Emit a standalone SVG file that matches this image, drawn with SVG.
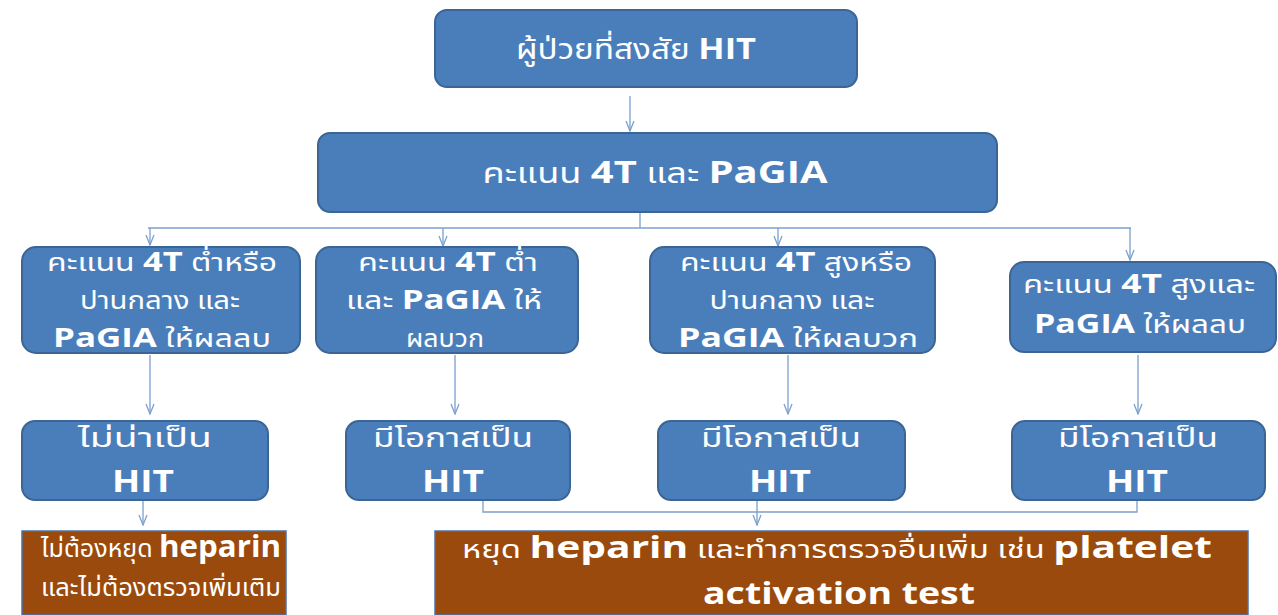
<svg xmlns="http://www.w3.org/2000/svg" width="1278" height="615" viewBox="0 0 1278 615">
<defs>
<marker id="arr" viewBox="0 0 12 10" refX="11" refY="5" markerWidth="12" markerHeight="10" markerUnits="userSpaceOnUse" orient="auto">
<path d="M1,1 L11,5 L1,9" fill="none" stroke="#7ba0cf" stroke-width="1.3"/>
</marker>
</defs>
<style>
.blue{fill:#4a7ebb;stroke:#3a6595;stroke-width:2}
.brown{fill:#9a4a0c;stroke:#4a74a8;stroke-width:1.5}
.t{fill:#ffffff;font-family:"Noto Sans Thai","Noto Sans","Open Sans",sans-serif;text-anchor:middle}
.b{font-family:"Open Sans","Noto Sans",sans-serif;font-weight:bold}
.c{fill:none;stroke:#7ba0cf;stroke-width:1.3}
</style>
<rect width="1278" height="615" fill="#ffffff"/>
<g id="connectors">
<line class="c" x1="630" y1="96" x2="630" y2="131" marker-end="url(#arr)"/>
<polyline class="c" points="640,212 640,228"/>
<line class="c" x1="148" y1="228" x2="1131" y2="228"/>
<line class="c" x1="150" y1="228" x2="150" y2="245" marker-end="url(#arr)"/>
<line class="c" x1="443" y1="228" x2="443" y2="246" marker-end="url(#arr)"/>
<line class="c" x1="778" y1="228" x2="778" y2="246" marker-end="url(#arr)"/>
<line class="c" x1="1130" y1="228" x2="1130" y2="260" marker-end="url(#arr)"/>
<line class="c" x1="150" y1="355" x2="150" y2="414" marker-end="url(#arr)"/>
<line class="c" x1="455" y1="355" x2="455" y2="414" marker-end="url(#arr)"/>
<line class="c" x1="788" y1="355" x2="788" y2="414" marker-end="url(#arr)"/>
<line class="c" x1="1138" y1="355" x2="1138" y2="414" marker-end="url(#arr)"/>
<line class="c" x1="143" y1="500" x2="143" y2="525" marker-end="url(#arr)"/>
<polyline class="c" points="483,500 483,512 1137,512 1137,500"/>
<line class="c" x1="757" y1="500" x2="757" y2="525" marker-end="url(#arr)"/>
</g>
<g id="n1">
<rect class="blue" x="435" y="10" width="422" height="77" rx="12"/>
<text class="t" x="636" y="59" font-size="28" textLength="240" lengthAdjust="spacingAndGlyphs">ผู้ป่วยที่สงสัย <tspan class="b" font-size="29">HIT</tspan></text>
</g>
<g id="n2">
<rect class="blue" x="318" y="133" width="679" height="79" rx="12"/>
<text class="t" x="655" y="183" font-size="28" textLength="345" lengthAdjust="spacingAndGlyphs">คะแนน <tspan class="b" font-size="31">4T</tspan> และ <tspan class="b" font-size="31">PaGIA</tspan></text>
</g>
<g id="n3">
<rect class="blue" x="22" y="247" width="278" height="106" rx="14"/>
<text class="t" x="162" y="271" font-size="25" textLength="230" lengthAdjust="spacingAndGlyphs">คะแนน <tspan class="b" font-size="27">4T</tspan> ต่ำหรือ</text>
<text class="t" x="160" y="309" font-size="25" textLength="160" lengthAdjust="spacingAndGlyphs">ปานกลาง และ</text>
<text class="t" x="162" y="347" font-size="25" textLength="218" lengthAdjust="spacingAndGlyphs"><tspan class="b" font-size="27">PaGIA</tspan> ให้ผลลบ</text>
</g>
<g id="n4">
<rect class="blue" x="316" y="247" width="262" height="106" rx="14"/>
<text class="t" x="448" y="271" font-size="25" textLength="180" lengthAdjust="spacingAndGlyphs">คะแนน <tspan class="b" font-size="27">4T</tspan> ต่ำ</text>
<text class="t" x="444" y="309" font-size="25" textLength="196" lengthAdjust="spacingAndGlyphs">และ <tspan class="b" font-size="27">PaGIA</tspan> ให้</text>
<text class="t" x="445" y="347" font-size="25" textLength="78" lengthAdjust="spacingAndGlyphs">ผลบวก</text>
</g>
<g id="n5">
<rect class="blue" x="650" y="247" width="285" height="106" rx="14"/>
<text class="t" x="796" y="271" font-size="25" textLength="232" lengthAdjust="spacingAndGlyphs">คะแนน <tspan class="b" font-size="27">4T</tspan> สูงหรือ</text>
<text class="t" x="792" y="309" font-size="25" textLength="165" lengthAdjust="spacingAndGlyphs">ปานกลาง และ</text>
<text class="t" x="798" y="347" font-size="25" textLength="240" lengthAdjust="spacingAndGlyphs"><tspan class="b" font-size="27">PaGIA</tspan> ให้ผลบวก</text>
</g>
<g id="n6">
<rect class="blue" x="1010" y="262" width="266" height="90" rx="14"/>
<text class="t" x="1139" y="293" font-size="25" textLength="232" lengthAdjust="spacingAndGlyphs">คะแนน <tspan class="b" font-size="27">4T</tspan> สูงและ</text>
<text class="t" x="1140" y="333" font-size="25" textLength="212" lengthAdjust="spacingAndGlyphs"><tspan class="b" font-size="27">PaGIA</tspan> ให้ผลลบ</text>
</g>
<g id="n7">
<rect class="blue" x="22" y="421" width="246" height="79" rx="13"/>
<text class="t" x="145" y="447" font-size="26" textLength="134" lengthAdjust="spacingAndGlyphs">ไม่น่าเป็น</text>
<text class="t b" x="143" y="492" font-size="31" textLength="62" lengthAdjust="spacingAndGlyphs">HIT</text>
</g>
<g id="n8">
<rect class="blue" x="346" y="421" width="224" height="79" rx="13"/>
<text class="t" x="453" y="447" font-size="26" textLength="160" lengthAdjust="spacingAndGlyphs">มีโอกาสเป็น</text>
<text class="t b" x="453" y="492" font-size="31" textLength="62" lengthAdjust="spacingAndGlyphs">HIT</text>
</g>
<g id="n9">
<rect class="blue" x="658" y="421" width="247" height="79" rx="13"/>
<text class="t" x="781" y="447" font-size="26" textLength="160" lengthAdjust="spacingAndGlyphs">มีโอกาสเป็น</text>
<text class="t b" x="780" y="492" font-size="31" textLength="62" lengthAdjust="spacingAndGlyphs">HIT</text>
</g>
<g id="n10">
<rect class="blue" x="1012" y="421" width="253" height="79" rx="13"/>
<text class="t" x="1138" y="447" font-size="26" textLength="160" lengthAdjust="spacingAndGlyphs">มีโอกาสเป็น</text>
<text class="t b" x="1137" y="492" font-size="31" textLength="62" lengthAdjust="spacingAndGlyphs">HIT</text>
</g>
<g id="n11">
<rect class="brown" x="22" y="531" width="264" height="84"/>
<text class="t" x="161" y="557" font-size="24" textLength="240" lengthAdjust="spacingAndGlyphs">ไม่ต้องหยุด <tspan class="b" font-size="30">heparin</tspan></text>
<text class="t" x="161" y="596" font-size="24" textLength="240" lengthAdjust="spacingAndGlyphs">และไม่ต้องตรวจเพิ่มเติม</text>
</g>
<g id="n12">
<rect class="brown" x="435" y="531" width="813" height="84"/>
<text class="t" x="837" y="558" font-size="25" textLength="750" lengthAdjust="spacingAndGlyphs">หยุด <tspan class="b" font-size="31">heparin</tspan> และทำการตรวจอื่นเพิ่ม เช่น <tspan class="b" font-size="31">platelet</tspan></text>
<text class="t b" x="839" y="604" font-size="31" textLength="272" lengthAdjust="spacingAndGlyphs">activation test</text>
</g>
</svg>
